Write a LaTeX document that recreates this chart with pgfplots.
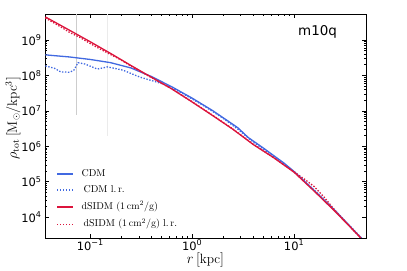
\documentclass[border=0pt]{standalone}
\usepackage{pgfplots}
\pgfplotsset{compat=1.18}
\usepackage{fontspec}
\newfontfamily\dv{DejaVu Sans}
\definecolor{cblue}{RGB}{65,105,225}
\definecolor{cred}{RGB}{220,20,60}
\definecolor{vlineA}{RGB}{205,205,205}
\definecolor{vlineB}{RGB}{235,235,235}
\newcommand{\limgsolid}[1]{\tikz[baseline=-0.55ex]\fill[#1] (0bp,-0.7bp) rectangle (16bp,0.7bp);\hspace{9bp}}
\newcommand{\limgdot}[1]{\tikz[baseline=-0.55ex]{\foreach \i in {0,1,2,3,4,5}{\fill[#1] (\i*3bp,-0.7bp) rectangle ++(1.5bp,1.4bp);}}\hspace{10.5bp}}
\begin{document}
\begin{tikzpicture}
\useasboundingbox (-45bp,-33bp) rectangle (362bp,238bp);
\begin{axis}[
  at={(0,0)}, anchor=south west,
  scale only axis, width=321bp, height=224bp,
  xmode=log, ymode=log,
  xmin=0.036, xmax=50.8, ymin=2.6e3, ymax=5.4e9,
  xtick={0.1,1,10}, xticklabels={{\dv 10\textsuperscript{−1}},{\dv 10\textsuperscript{0}},{\dv 10\textsuperscript{1}}},
  ytick={1e4,1e5,1e6,1e7,1e8,1e9},
  yticklabels={{\dv 10\textsuperscript{4}},{\dv 10\textsuperscript{5}},{\dv 10\textsuperscript{6}},{\dv 10\textsuperscript{7}},{\dv 10\textsuperscript{8}},{\dv 10\textsuperscript{9}}},
  tick label style={font=\fontsize{11.5}{12}\selectfont},
  xticklabel style={yshift=1.5bp},
  tick align=inside, ticks=both,
  major tick length=4.5bp, minor tick length=2.5bp,
  xtick pos=both, ytick pos=both,
  every tick/.style={black, line width=0.6pt},
  axis line style={line width=0.9pt},
  xlabel={$r\,[{\rm kpc}]$},
  ylabel={$\rho_{\rm tot}\,[{\rm M_\odot/kpc^3}]$},
  xlabel style={at={(axis description cs:0.5,-0.097)}, anchor=center, font=\fontsize{13.5}{15}\selectfont},
  ylabel style={at={(axis description cs:-0.1,0.535)}, anchor=center, font=\fontsize{13.5}{15}\selectfont},
  legend style={at={(0.02,0.025)}, anchor=south west, draw=none, fill=none,
    font=\fontsize{10}{11}\selectfont, row sep=3.5pt},
  legend cell align=left,
  legend image code/.code={},
  clip=true,
]
\addplot[vlineA, line width=1.3pt, forget plot] coordinates {(0.073,5.4e9) (0.073,7.6e6)};
\addplot[vlineB, line width=1.3pt, forget plot] coordinates {(0.147,5.4e9) (0.147,1.9e6)};
\addplot[cblue, line width=1.3pt] coordinates {
(0.0363,3.80e8) (0.0631,3.31e8) (0.1,2.82e8) (0.1585,2.29e8) (0.2512,1.622e8)
(0.3981,9.33e7) (0.631,4.79e7) (1,2.29e7) (1.585,1.023e7) (2.512,4.17e6)
(2.818,3.31e6) (3.548,1.778e6) (5.012,8.91e5) (7.943,3.39e5) (10,1.95e5)
(15.85,5.62e4) (25.12,1.55e4) (39.81,3.89e3) (50.1,1.95e3)};
\addlegendentry{\limgsolid{cblue}CDM}
\addplot[cblue, line width=1.3pt, dash pattern=on 1.4pt off 1.6pt] coordinates {
(0.0363,1.86e8) (0.0447,1.585e8) (0.0513,1.26e8) (0.0631,1.23e8) (0.0692,1.41e8)
(0.0759,2.29e8) (0.0891,2.09e8) (0.1175,1.51e8) (0.1479,1.74e8) (0.2089,1.41e8)
(0.309,8.91e7) (0.417,6.92e7) (0.562,5.37e7) (0.794,3.16e7) (1.259,1.48e7)
(1.995,6.31e6) (2.818,3.02e6) (3.981,1.318e6) (6.31,5.25e5) (10,1.95e5)
(15.85,5.75e4) (25.12,1.585e4) (50.1,2.0e3)};
\addlegendentry{\limgdot{cblue}CDM l.\,r.}
\addplot[cred, line width=1.3pt] coordinates {
(0.0363,4.47e9) (0.0631,1.86e9) (0.1,8.91e8) (0.1585,4.17e8) (0.2512,1.905e8)
(0.3981,8.91e7) (0.631,4.17e7) (1,1.778e7) (1.585,7.41e6) (2.512,3.02e6)
(3.981,1.122e6) (6.31,4.79e5) (10,1.862e5) (15.85,5.37e4) (25.12,1.479e4)
(39.81,3.80e3) (50.1,1.905e3)};
\addlegendentry{\limgsolid{cred}dSIDM $(1\,{\rm cm^2/g})$}
\addplot[cred, line width=1.3pt, dash pattern=on 1.4pt off 1.6pt] coordinates {
(0.0363,4.17e9) (0.0447,2.95e9) (0.0562,2.0e9) (0.0631,1.62e9) (0.0794,1.175e9)
(0.1,7.94e8) (0.1259,5.5e8) (0.1585,3.89e8) (0.1995,2.75e8) (0.2512,1.82e8)
(0.3981,8.71e7) (0.631,4.17e7) (1,1.82e7) (1.585,7.59e6) (2.512,3.09e6)
(3.981,1.148e6) (6.31,4.79e5) (10,1.905e5) (12.59,1.2e5) (15.85,7.24e4)
(19.95,3.55e4) (25.12,1.585e4) (39.81,3.8e3) (50.1,1.9e3)};
\addlegendentry{\limgdot{cred}dSIDM $(1\,{\rm cm^2/g})$ l.\,r.}
\node[anchor=center, inner sep=0pt, font=\dv\fontsize{13.5}{14}\selectfont] at (rel axis cs:0.849,0.92) {m10q};
\end{axis}
\end{tikzpicture}
\end{document}
